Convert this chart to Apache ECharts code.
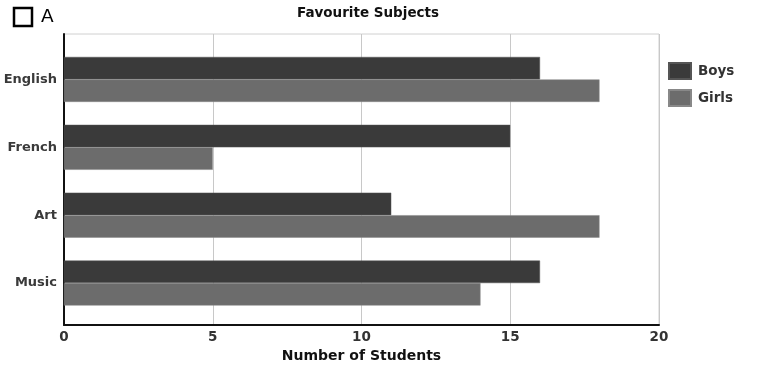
<!DOCTYPE html>
<html>
<head>
<meta charset="utf-8">
<script src="https://cdn.jsdelivr.net/npm/echarts@6/dist/echarts.min.js"></script>
<style>
  html, body { margin: 0; padding: 0; background: #fff; }
  #chart { width: 764px; height: 368px; }
</style>
</head>
<body>
<div id="chart"></div>
<script>
// Favourite subjects survey: number of boys and girls per subject
const subjects = ['English', 'French', 'Art', 'Music'];
const boys = [16, 15, 11, 16];
const girls = [18, 5, 18, 14];
const xTicks = { min: 0, max: 20, interval: 5 };

const FONT = 'DejaVu Sans, sans-serif';
const chart = echarts.init(document.getElementById('chart'));

chart.setOption({
  animation: false,
  title: {
    text: 'Favourite Subjects',
    left: 368, textAlign: 'center', top: 6, padding: 0,
    textStyle: { fontFamily: FONT, fontSize: 13.5, fontWeight: 'bold', color: '#111' }
  },
  legend: {
    orient: 'vertical', left: 668, top: 62, padding: 0,
    itemWidth: 22, itemHeight: 16, itemGap: 9,
    icon: 'rect',
    textStyle: { fontFamily: FONT, fontSize: 13.5, fontWeight: 'bold', color: '#333', padding: [0, 0, 0, 2] },
    data: ['Boys', 'Girls']
  },
  graphic: [
    { type: 'rect', shape: { x: 14, y: 8, width: 18, height: 18 },
      style: { fill: 'none', stroke: '#000', lineWidth: 2.5 } },
    { type: 'text',
      style: { x: 41, y: 8, text: 'A', verticalAlign: 'top',
               fontFamily: 'DejaVu Sans, sans-serif', fontSize: 18.5, fill: '#000' } }
  ],
  grid: [
    // frame with value axis and grid lines
    { left: 64, right: 105, top: 34, bottom: 40, show: true, borderColor: '#d0d0d0', borderWidth: 1 },
    // bar area, inset so the bar groups sit evenly inside the frame
    { left: 64, right: 105, top: 45.5, bottom: 51 }
  ],
  xAxis: [
    {
      gridIndex: 0, type: 'value', min: xTicks.min, max: xTicks.max, interval: xTicks.interval,
      name: 'Number of Students', nameLocation: 'middle', nameGap: 22,
      nameTextStyle: { fontFamily: FONT, fontSize: 14, fontWeight: 'bold', color: '#111' },
      axisLine: { show: true, lineStyle: { color: '#111', width: 2 } },
      axisTick: { show: false },
      axisLabel: { fontFamily: FONT, fontSize: 13.5, fontWeight: 'bold', color: '#333', margin: 5 },
      splitLine: { show: true, lineStyle: { color: '#c8c8c8', width: 1 } }
    },
    {
      gridIndex: 1, type: 'value', min: xTicks.min, max: xTicks.max, interval: xTicks.interval,
      show: false
    }
  ],
  yAxis: [
    {
      gridIndex: 0, type: 'value', min: 0, max: 1,
      axisLine: { show: true, lineStyle: { color: '#111', width: 2 } },
      axisTick: { show: false }, axisLabel: { show: false }, splitLine: { show: false }
    },
    {
      gridIndex: 1, type: 'category', data: subjects, inverse: true,
      axisLine: { show: false }, axisTick: { show: false },
      axisLabel: { fontFamily: FONT, fontSize: 13, fontWeight: 'bold', color: '#3a3a3a', margin: 7 }
    }
  ],
  series: [
    {
      name: 'Boys', type: 'bar', xAxisIndex: 1, yAxisIndex: 1, data: boys,
      barWidth: 22.5, barGap: '0%',
      itemStyle: { color: '#3a3a3a', borderColor: '#555', borderWidth: 0.5 }
    },
    {
      name: 'Girls', type: 'bar', xAxisIndex: 1, yAxisIndex: 1, data: girls,
      barWidth: 22.5, barGap: '0%',
      itemStyle: { color: '#6c6c6c', borderColor: '#888', borderWidth: 0.5 }
    }
  ]
});
</script>
</body>
</html>
